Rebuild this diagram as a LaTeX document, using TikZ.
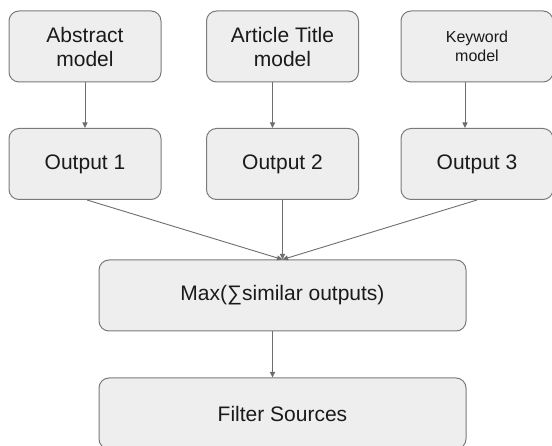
\documentclass[tikz,border=0pt]{standalone}
\usepackage{fontspec}
\setmainfont{Liberation Sans}
\usetikzlibrary{arrows.meta}

\definecolor{boxfill}{HTML}{EEEEEE}
\definecolor{boxline}{HTML}{7A7A7A}
\definecolor{arrline}{HTML}{6E6E6E}
\definecolor{txt}{HTML}{1A1A1A}

\begin{document}
\begin{tikzpicture}[x=1pt, y=-1pt,
  blk/.style={draw=boxline, fill=boxfill, line width=1pt, rounded corners=10pt,
    minimum width=152pt, minimum height=71pt, align=center, text=txt,
    font=\fontsize{21}{24}\selectfont},
  wide/.style={blk, minimum width=367pt},
  arr/.style={draw=arrline, line width=0.9pt, -{Triangle[length=5.5pt,width=5pt]}}]
\useasboundingbox (0,0) rectangle (552,446);
\def\dx{-10}

% models
\node[blk] (abs) at (85, 46.5) {Abstract\\model};
\node[blk] (art) at (282.5, 46.5) {Article Title\\model};
\node[blk, font=\fontsize{16}{19}\selectfont] (key) at (477, 46.5) {Keyword\\model};

% outputs
\node[blk] (out1) at (85, 164) {Output 1};
\node[blk] (out2) at (282.5, 164) {Output 2};
\node[blk] (out3) at (477, 164) {Output 3};

% combine and filter
\node[wide] (max) at (282.5, 295.5) {Max(∑similar outputs)};
\node[wide] (filt) at (282.5, 413.5) {Filter Sources};

\draw[arr] (abs) -- (out1);
\draw[arr] ([xshift=\dx]art.south) -- ([xshift=\dx]out2.north);
\draw[arr] ([xshift=-12]key.south) -- ([xshift=-12]out3.north);
\draw[arr] ([xshift=2]out1.south) -- (max.north);
\draw[arr] (out2) -- (max);
\draw[arr] (out3.south) -- (max.north);
\draw[arr] ([xshift=\dx]max.south) -- ([xshift=\dx]filt.north);
\end{tikzpicture}
\end{document}
